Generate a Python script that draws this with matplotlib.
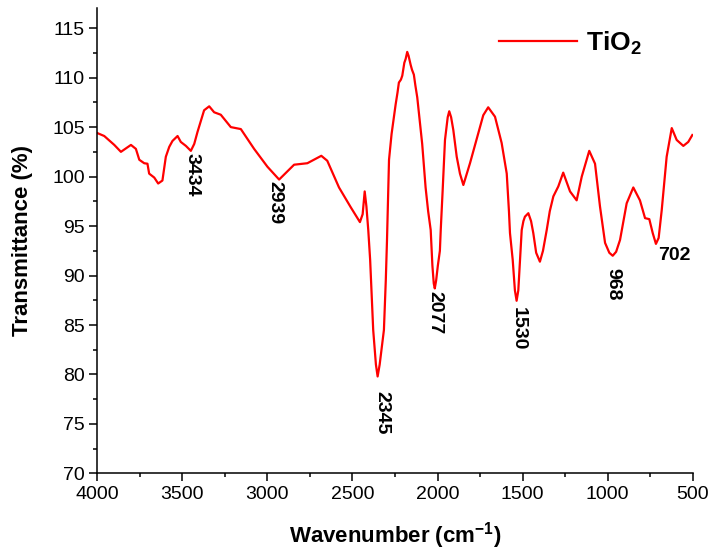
import matplotlib
matplotlib.use("Agg")
import matplotlib.pyplot as plt
from matplotlib.ticker import MultipleLocator

plt.rcParams['font.family'] = ['Liberation Sans', 'DejaVu Sans']
plt.rcParams['mathtext.fontset'] = 'custom'
plt.rcParams['mathtext.rm'] = 'Liberation Sans'
plt.rcParams['mathtext.bf'] = 'Liberation Sans:bold'

# FTIR spectrum of TiO2
wavenumber = [4000, 3959, 3900, 3861, 3802, 3773, 3753, 3724, 3705, 3695, 3665,
              3642, 3617, 3597, 3577, 3558, 3528, 3509, 3479, 3450, 3430, 3411,
              3372, 3342, 3313, 3274, 3215, 3156, 3078, 3000, 2931, 2843, 2765,
              2683, 2648, 2579, 2510, 2456, 2440, 2428, 2418, 2407, 2396, 2378,
              2362, 2352, 2340, 2315, 2304, 2297, 2285, 2270, 2246, 2235, 2227,
              2215, 2207, 2195, 2187, 2178, 2170, 2158, 2150, 2139, 2130, 2119,
              2090, 2070, 2055, 2040, 2030, 2022, 2016, 2008, 1998, 1986, 1981,
              1970, 1956, 1940, 1931, 1920, 1907, 1887, 1868, 1848, 1809, 1760,
              1731, 1702, 1662, 1623, 1593, 1580, 1574, 1558, 1545, 1535, 1525,
              1515, 1505, 1495, 1486, 1466, 1450, 1437, 1420, 1398, 1380, 1358,
              1340, 1319, 1290, 1261, 1221, 1182, 1152, 1108, 1074, 1045, 1015,
              990, 970, 950, 927, 888, 849, 810, 780, 755, 735, 716, 700, 682,
              653, 623, 594, 555, 526, 502]
transmittance = [104.4, 104.1, 103.2, 102.5, 103.2, 102.8, 101.7, 101.35, 101.3,
                 100.3, 99.9, 99.3, 99.6, 102.0, 103.0, 103.6, 104.1, 103.5,
                 103.1, 102.6, 103.3, 104.5, 106.7, 107.1, 106.5, 106.25, 105.0,
                 104.8, 102.8, 101.0, 99.7, 101.2, 101.35, 102.1, 101.6, 98.9,
                 96.9, 95.4, 96.2, 98.5, 97.0, 94.6, 91.6, 84.5, 81.0, 79.8, 81.0,
                 84.5, 89.5, 93.5, 101.7, 104.3, 107.3, 108.5, 109.5, 109.8,
                 110.2, 111.5, 111.9, 112.6, 112.2, 111.3, 110.8, 110.3, 109.2,
                 108.0, 103.3, 98.9, 96.5, 94.6, 91.0, 89.2, 88.7, 89.5, 91.0,
                 92.5, 94.6, 98.5, 103.7, 106.0, 106.6, 106.0, 104.7, 102.0,
                 100.3, 99.15, 101.35, 104.4, 106.2, 107.0, 106.05, 103.4, 100.3,
                 96.5, 94.3, 91.6, 88.5, 87.45, 88.5, 91.5, 94.6, 95.5, 95.95,
                 96.3, 95.5, 94.3, 92.3, 91.4, 92.5, 94.6, 96.5, 98.0, 99.0,
                 100.4, 98.5, 97.6, 100.0, 102.6, 101.3, 97.0, 93.3, 92.3, 92.0,
                 92.4, 93.6, 97.3, 98.9, 97.6, 95.8, 95.7, 94.3, 93.2, 93.8, 96.6,
                 102.0, 104.9, 103.7, 103.1, 103.5, 104.2]

# peak labels: text, x, y (top of label), rotation
peak_text = ['3434', '2939', '2345', '2077', '1530', '968', '702']
peak_x = [3442, 2955, 2325, 2015, 1525, 970, 610]
peak_y = [102.4, 99.6, 78.3, 88.4, 86.8, 90.8, 92.0]
peak_rot = [270, 270, 270, 270, 270, 270, 0]

fig = plt.figure(figsize=(7.1, 5.57), dpi=100)
ax = fig.add_axes([0.137, 0.150, 0.8386, 0.835])

ax.plot(wavenumber, transmittance, color='red', lw=1.6, label='TiO$_\\mathbf{2}$')

for t, x, y, r in zip(peak_text, peak_x, peak_y, peak_rot):
    if r == 0:
        ax.text(x, y, t, rotation=r, ha='center', va='center',
                fontsize=14, fontweight='bold')
    else:
        ax.text(x, y, t, rotation=r, ha='center', va='top',
                fontsize=14, fontweight='bold')

ax.set_xlim(4000, 500)
ax.set_ylim(70, 117)
ax.xaxis.set_major_locator(MultipleLocator(500))
ax.xaxis.set_minor_locator(MultipleLocator(250))
ax.yaxis.set_major_locator(MultipleLocator(5))
ax.yaxis.set_minor_locator(MultipleLocator(2.5))
ax.set_yticks(range(70, 116, 5))

for s in ['top', 'right']:
    ax.spines[s].set_visible(False)
for s in ['left', 'bottom']:
    ax.spines[s].set_linewidth(1.1)

ax.tick_params(which='major', direction='out', length=6, width=1.1,
               labelsize=14, pad=3)
ax.tick_params(which='minor', direction='out', length=3, width=1.1)

ax.set_xlabel('Wavenumber (cm$^{\\mathbf{-1}}$)', fontsize=16, fontweight='bold',
              labelpad=12)
ax.set_ylabel('Transmittance (%)', fontsize=16, fontweight='bold', labelpad=14)

leg = ax.legend(loc='center left', bbox_to_anchor=(0.653, 0.925), frameon=False,
                borderpad=0, handlelength=2.95, handletextpad=0.34,
                prop={'size': 19, 'weight': 'bold'})

fig.savefig('out.png', dpi=100)
